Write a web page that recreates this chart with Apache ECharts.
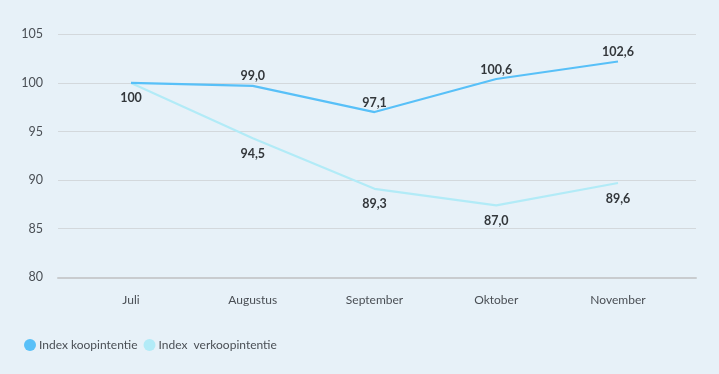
<!DOCTYPE html>
<html>
<head>
<meta charset="utf-8">
<script src="https://cdn.jsdelivr.net/npm/echarts@6/dist/echarts.min.js"></script>
<style>
  html, body { margin: 0; padding: 0; background: #e7f1f8; }
  #chart { width: 719px; height: 374px; }
</style>
</head>
<body>
<div id="chart"></div>
<script>
// Data
const categories = ['Juli', 'Augustus', 'September', 'Oktober', 'November'];
const koopValues = [100, 99.7, 97.0, 100.4, 102.2];
const koopLabels = ['', '99,0', '97,1', '100,6', '102,6'];
const verkoopValues = [100, 94.3, 89.1, 87.4, 89.7];
const verkoopLabels = ['100', '94,5', '89,3', '87,0', '89,6'];
const seriesNames = ['Index koopintentie', 'Index  verkoopintentie'];
const yTicks = [80, 85, 90, 95, 100, 105];

const FONT = 'Lato, "Open Sans", sans-serif';
const yMin = yTicks[0], yMax = yTicks[yTicks.length - 1], yStep = yTicks[1] - yTicks[0];

function points(values, labels) {
  return values.map((v, i) => ({
    value: v,
    label: { show: labels[i] !== '', formatter: labels[i] }
  }));
}

const chart = echarts.init(document.getElementById('chart'), null, { renderer: 'canvas' });
chart.setOption({
  backgroundColor: '#e7f1f8',
  animation: false,
  textStyle: { fontFamily: FONT },
  grid: [
    { left: 58, right: 23, top: 34.3, bottom: 96.7 },
    { left: 131, right: 101, top: 34.3, bottom: 96.7 }
  ],
  legend: {
    left: 19, top: 334,
    icon: 'circle',
    itemWidth: 12, itemHeight: 12, itemGap: 6,
    textStyle: { color: '#4a4f55', fontSize: 12, fontFamily: FONT, padding: [0, 0, 0, -2] },
    data: seriesNames
  },
  xAxis: [
    {
      gridIndex: 0, type: 'category', data: categories, boundaryGap: false,
      axisLine: { show: true, lineStyle: { color: '#c9cccf', width: 2 } },
      axisTick: { show: false }, axisLabel: { show: false }, splitLine: { show: false }
    },
    {
      gridIndex: 1, type: 'category', data: categories, boundaryGap: false,
      axisLine: { show: false }, axisTick: { show: false },
      axisLabel: { color: '#4a4f55', fontSize: 12, margin: 17, fontFamily: FONT },
      splitLine: { show: false }
    }
  ],
  yAxis: [
    {
      gridIndex: 0, type: 'value', min: yMin, max: yMax, interval: yStep,
      axisLine: { show: false }, axisTick: { show: false },
      axisLabel: { color: '#4a4f55', fontSize: 12.5, margin: 15, fontFamily: FONT },
      splitLine: { lineStyle: { color: '#d3d8dc', width: 1 } }
    },
    {
      gridIndex: 1, type: 'value', min: yMin, max: yMax, interval: yStep,
      show: false, splitLine: { show: false }
    }
  ],
  series: [
    {
      name: seriesNames[0], type: 'line', xAxisIndex: 1, yAxisIndex: 1,
      data: points(koopValues, koopLabels),
      showSymbol: true, symbol: 'circle', symbolSize: 0,
      color: '#58c0f8',
      lineStyle: { color: '#58c0f8', width: 2.2 },
      label: { position: 'top', distance: 3, color: '#33373b', fontSize: 12.5, fontWeight: 'bold', fontFamily: FONT },
      z: 3
    },
    {
      name: seriesNames[1], type: 'line', xAxisIndex: 1, yAxisIndex: 1,
      data: points(verkoopValues, verkoopLabels),
      showSymbol: true, symbol: 'circle', symbolSize: 0,
      color: '#b2ebf7',
      lineStyle: { color: '#b2ebf7', width: 2.2 },
      label: { position: 'bottom', distance: 9, color: '#33373b', fontSize: 12.5, fontWeight: 'bold', fontFamily: FONT },
      z: 2
    }
  ]
});
</script>
</body>
</html>
